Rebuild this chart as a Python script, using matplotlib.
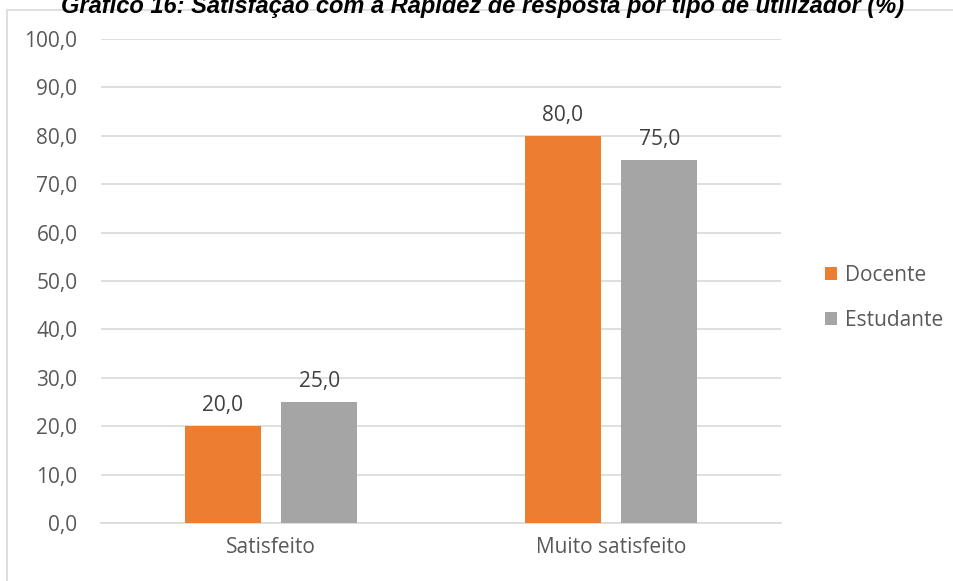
import matplotlib
matplotlib.use("Agg")
import matplotlib.pyplot as plt
import numpy as np
from matplotlib.patches import Rectangle

title = "Gráfico 16: Satisfação com a Rapidez de resposta por tipo de utilizador (%)"
categories = ["Satisfeito", "Muito satisfeito"]
series_names = ["Docente", "Estudante"]
docente = [20.0, 80.0]
estudante = [25.0, 75.0]
colors = ["#ED7D31", "#A5A5A5"]
yticks = [0, 10, 20, 30, 40, 50, 60, 70, 80, 90, 100]

W, H = 954, 581
fig = plt.figure(figsize=(W / 100, H / 100), dpi=100)
fig.patch.set_facecolor("white")

# chart border (cut at right/bottom)
fig.add_artist(Rectangle((7 / W, -0.05), 1.2, 1 - 10.5 / H + 0.05, transform=fig.transFigure,
                         fill=False, edgecolor="#D9D9D9", linewidth=1.2))

fig.text(0.506, 1 - 13 / H, title, ha="center", va="baseline", fontsize=17,
         fontweight="bold", fontstyle="italic", family="Liberation Sans", color="black")

ax = fig.add_axes([101 / W, 1 - 523 / H, 680 / W, 484 / H])
x = np.arange(len(categories))
bw = 0.2235
off = 0.1425
font = "Open Sans"
fs = 15
for vals, name, c, o in [(docente, series_names[0], colors[0], -off),
                         (estudante, series_names[1], colors[1], off)]:
    bars = ax.bar(x + o, vals, width=bw, color=c, label=name, zorder=3)
    for b, v in zip(bars, vals):
        ax.annotate(f"{v:.1f}".replace(".", ","), (b.get_x() + b.get_width() / 2, v),
                    xytext=(0, 7), textcoords="offset points", ha="center", va="bottom",
                    fontsize=fs, color="#404040", family=font)

ax.set_xlim(-0.5, 1.5)
ax.set_ylim(0, 100)
ax.set_yticks(yticks)
ax.set_yticklabels([f"{v:.1f}".replace(".", ",") for v in yticks], family=font,
                   fontsize=fs, color="#595959")
ax.set_xticks(x)
ax.set_xticklabels(categories, family=font, fontsize=fs, color="#595959")
ax.tick_params(axis="both", length=0)
ax.tick_params(axis="y", pad=17)
ax.tick_params(axis="x", pad=10)
ax.grid(axis="y", color="#D9D9D9", linewidth=1.2, zorder=0)
for s in ["top", "right", "left"]:
    ax.spines[s].set_visible(False)
ax.spines["bottom"].set_color("#D9D9D9")
ax.spines["bottom"].set_linewidth(1.2)

leg = fig.legend(loc="center left", bbox_to_anchor=(806 / W, 1 - 298 / H), frameon=False,
                 prop={"family": font, "size": fs}, handlelength=0.6, handleheight=0.6,
                 handletextpad=0.35, labelspacing=1.15)
for t in leg.get_texts():
    t.set_color("#595959")

fig.savefig("out.png", dpi=100, facecolor="white")
